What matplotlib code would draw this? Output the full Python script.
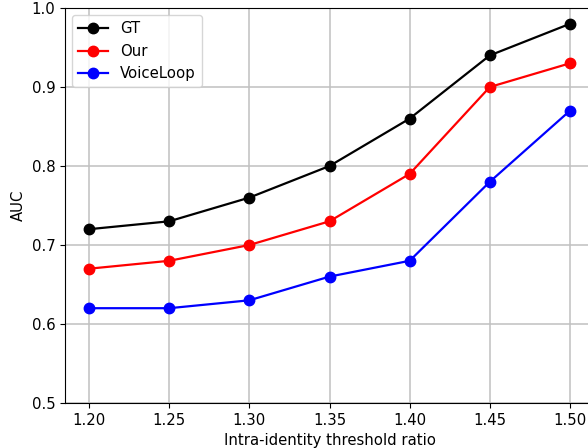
import matplotlib
matplotlib.use("Agg")
import matplotlib.pyplot as plt

x_vals = [1.20, 1.25, 1.30, 1.35, 1.40, 1.45, 1.50]
x_labels = ["1.20", "1.25", "1.30", "1.35", "1.40", "1.45", "1.50"]
gt = [0.72, 0.73, 0.76, 0.80, 0.86, 0.94, 0.98]
our = [0.67, 0.68, 0.70, 0.73, 0.79, 0.90, 0.93]
voiceloop = [0.62, 0.62, 0.63, 0.66, 0.68, 0.78, 0.87]
y_ticks = [0.5, 0.6, 0.7, 0.8, 0.9, 1.0]

fig = plt.figure(figsize=(5.88, 4.48), dpi=100)
W, H = 588, 448
left, right, top, bottom = 65, 594, 8, 403
ax = fig.add_axes([left / W, (H - bottom) / H, (right - left) / W, (bottom - top) / H])

fs = 10.7
ax.plot(x_vals, gt, color="black", marker="o", markersize=7.5, linewidth=1.6, label="GT")
ax.plot(x_vals, our, color="red", marker="o", markersize=7.5, linewidth=1.6, label="Our")
ax.plot(x_vals, voiceloop, color="blue", marker="o", markersize=7.5, linewidth=1.6, label="VoiceLoop")

ax.set_xlim(1.185, 1.515)
ax.set_ylim(0.5, 1.0)
ax.set_xticks(x_vals)
ax.set_xticklabels(x_labels)
ax.set_yticks(y_ticks)
ax.tick_params(labelsize=fs)
ax.grid(True, color="#c0c0c0", linewidth=1.1)
ax.set_axisbelow(True)
ax.set_xlabel("Intra-identity threshold ratio", fontsize=fs)
ax.set_ylabel("AUC", fontsize=fs)
ax.legend(loc="upper left", fontsize=fs)

fig.savefig("out.png", dpi=100)
